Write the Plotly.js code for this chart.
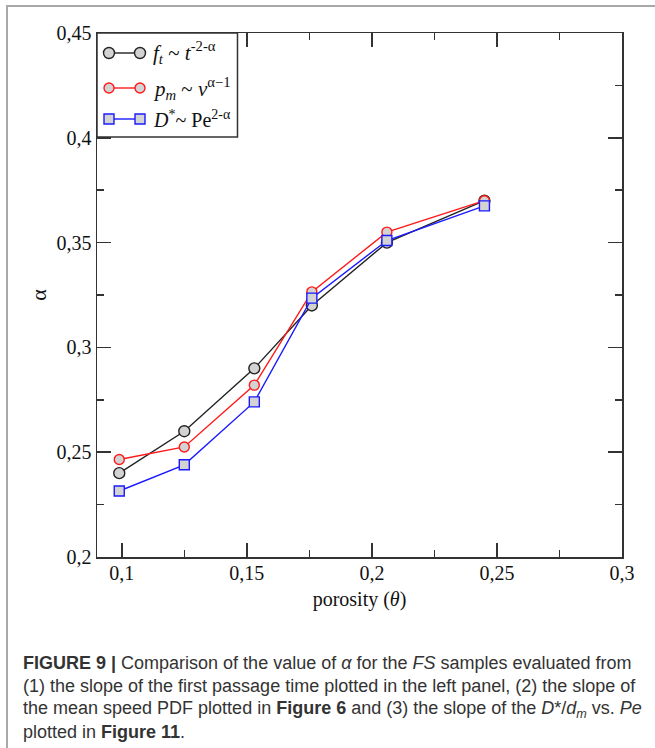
<!DOCTYPE html>
<html>
<head>
<meta charset="utf-8">
<script src="https://cdn.plot.ly/plotly-3.0.1.min.js"></script>
<style>
  html, body { margin: 0; padding: 0; background: #fff; }
  #wrap { position: relative; width: 655px; height: 748px; overflow: hidden; }
  #chart { position: absolute; left: 0; top: 0; width: 655px; height: 748px; }
  #frame { position: absolute; left: 6px; top: 5px; width: 700px; height: 800px;
           border-left: 2px solid #a9a9a9; border-top: 2px solid #a9a9a9; pointer-events: none; }
</style>
</head>
<body>
<div id="wrap">
  <div id="chart"></div>
  <div id="frame"></div>
</div>
<script>
// porosity values (x) shared by all series
const porosity = [0.099, 0.125, 0.153, 0.176, 0.206, 0.245];
// alpha from first passage time slope
const alphaFirstPassage = [0.240, 0.260, 0.290, 0.320, 0.350, 0.370];
// alpha from mean speed PDF slope
const alphaMeanSpeed = [0.2465, 0.2525, 0.282, 0.3265, 0.355, 0.370];
// alpha from D*/dm vs Pe slope
const alphaDispersion = [0.2315, 0.244, 0.274, 0.3235, 0.351, 0.3675];

const seriesNames = [
  '<i>f</i><sub><i>t</i></sub> ~ <i>t</i><sup>-2-α</sup>',
  '<i>p</i><sub><i>m</i></sub> ~ <i>ν</i><sup>α−1</sup>',
  '<i>D</i><sup>*</sup>~ Pe<sup>2-α</sup>'
];
const seriesColors = ['#222222', '#ff1a1a', '#1a1aff'];
const seriesSymbols = ['circle', 'circle', 'square'];
const xTitle = 'porosity (<i>θ</i>)';
const yTitle = 'α';
const captionLines = [
  '<b>FIGURE 9 |</b> Comparison of the value of <i>α</i> for the <i>FS</i> samples evaluated from',
  '(1) the slope of the first passage time plotted in the left panel, (2) the slope of',
  'the mean speed PDF plotted in <b>Figure 6</b> and (3) the slope of the <i>D</i>*/<i>d</i><sub><i>m</i></sub> vs. <i>Pe</i>',
  'plotted in <b>Figure 11</b>.'
];

const serif = 'Liberation Serif, Times New Roman, serif';
const sans = 'Liberation Sans, Arial, sans-serif';

// plot area in pixels
const M = { l: 97, r: 33, t: 33, b: 191 };
const W = 655, H = 748;
const PW = W - M.l - M.r, PH = H - M.t - M.b;
const px = x => (x - M.l) / PW;          // pixel -> paper x
const py = y => 1 - (y - M.t) / PH;      // pixel -> paper y

const seriesY = [alphaFirstPassage, alphaMeanSpeed, alphaDispersion];
const markerSizes = [11, 10, 10];
const traces = seriesY.map((ys, i) => ({
  x: porosity, y: ys, name: seriesNames[i], mode: 'lines+markers', showlegend: false,
  line: { color: seriesColors[i], width: 1.4 },
  marker: { symbol: seriesSymbols[i], size: markerSizes[i], color: '#d3d3d3',
            line: { color: seriesColors[i], width: 1.4 } }
}));

// caption
const annotations = captionLines.map((t, i) => ({
  text: t, xref: 'paper', yref: 'paper', showarrow: false,
  x: px(21), xanchor: 'left',
  y: py(663 + i * 23), yanchor: 'middle',
  align: 'left', font: { family: sans, size: 18, color: '#333333' }
}));

// custom legend (Grace style: marker at both ends of the line sample)
const legendRows = [53, 88, 119];
const legendFont = [21, 21, 20];
const shapes = [{
  type: 'rect', xref: 'paper', yref: 'paper', layer: 'above',
  x0: 0, x1: px(237.5), y0: py(137), y1: 1,
  fillcolor: '#ffffff', line: { color: '#333', width: 1.5 }
}];
seriesNames.forEach((name, i) => {
  const yy = py(legendRows[i]);
  shapes.push({ type: 'line', xref: 'paper', yref: 'paper', layer: 'above',
    x0: px(109), x1: px(140), y0: yy, y1: yy, line: { color: seriesColors[i], width: 1.4 } });
  [109, 140].forEach(cx => {
    const r = markerSizes[i] / 2;
    shapes.push({ type: seriesSymbols[i] === 'square' ? 'rect' : 'circle',
      xref: 'paper', yref: 'paper', layer: 'above',
      xsizemode: 'pixel', ysizemode: 'pixel', xanchor: px(cx), yanchor: yy,
      x0: -r, x1: r, y0: -r, y1: r,
      fillcolor: '#d3d3d3', line: { color: seriesColors[i], width: 1.4 } });
  });
  annotations.push({ text: name, xref: 'paper', yref: 'paper', showarrow: false,
    x: px(151), xanchor: 'left', y: yy, yanchor: 'middle', align: 'left',
    font: { family: serif, size: legendFont[i], color: '#111' } });
});

const axisCommon = {
  showgrid: false, zeroline: false, showline: true, linecolor: '#333', linewidth: 1.5,
  mirror: 'ticks', ticks: 'inside', ticklen: 14, tickwidth: 1.5, tickcolor: '#333',
  tickfont: { family: serif, size: 20, color: '#111' },
  minor: { ticks: 'inside', ticklen: 7, tickwidth: 1.5, tickcolor: '#333', dtick: 0.025 }
};

const layout = {
  width: W, height: H,
  margin: M,
  paper_bgcolor: '#ffffff', plot_bgcolor: '#ffffff',
  separators: ', ',
  showlegend: false,
  xaxis: Object.assign({}, axisCommon, {
    range: [0.0901, 0.3], dtick: 0.05, tick0: 0, ticklabelstandoff: -3,
    title: { text: xTitle, font: { family: serif, size: 20, color: '#111' }, standoff: 9 }
  }),
  yaxis: Object.assign({}, axisCommon, {
    range: [0.2, 0.45], dtick: 0.05, tick0: 0,
    title: { text: yTitle, font: { family: serif, size: 22, color: '#111' }, standoff: 4 }
  }),
  shapes: shapes,
  annotations: annotations
};

Plotly.newPlot('chart', traces, layout, { displayModeBar: false, staticPlot: true });
</script>
</body>
</html>
